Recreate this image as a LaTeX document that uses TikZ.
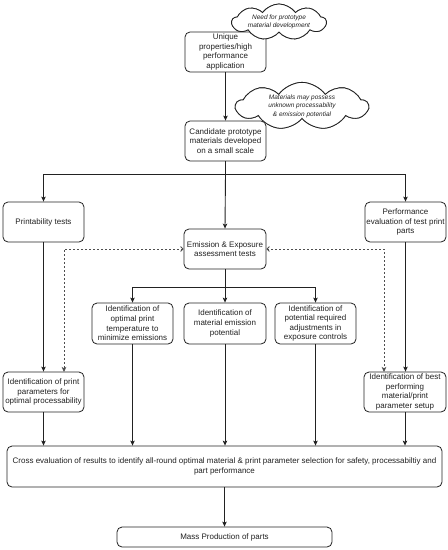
\documentclass[tikz,border=0pt]{standalone}
\usepackage{fontspec}
\setmainfont{Liberation Sans}
\usetikzlibrary{arrows.meta,shapes.symbols,calc}
\definecolor{ink}{HTML}{222222}
\tikzset{
  box/.style={draw=ink, line width=0.8pt, rounded corners=5pt, fill=white, inner sep=0pt,
    align=center, text=ink, font=\fontsize{8}{9.6}\selectfont},
  cloudnode/.style={draw=ink, line width=0.8pt, fill=white, cloud, cloud puffs=9, cloud puff arc=110,
    cloud ignores aspect, inner sep=0pt, align=center, text=ink,
    font=\fontsize{6.5}{8.4}\selectfont\itshape},
  arr/.style={draw=ink, line width=0.9pt, -{Stealth[length=5pt,width=4.5pt,inset=1.2pt]}},
  plain/.style={draw=ink, line width=0.9pt},
  dotarr/.style={draw=ink!80, line width=0.8pt, dash pattern=on 2pt off 2pt,
    {Straight Barb[length=2.5pt,width=5pt]}-{Stealth[length=5pt,width=4.5pt,inset=1.2pt]}}
}
\begin{document}
\begin{tikzpicture}[x=1pt,y=-1pt]
\useasboundingbox (0,0) rectangle (448,550);
\fill[white] (0,0) rectangle (448,550);

\node[box, minimum width=81pt, minimum height=40pt] (uniq) at (225.5,52) {Unique\\properties/high\\performance\\application};
\node[cloudnode, minimum width=94pt, minimum height=36pt] (cl1) at (279,22) {Need for prototype\\material development};

\node[box, minimum width=81pt, minimum height=40pt] (cand) at (225.5,141) {Candidate prototype\\materials developed\\on a small scale};
\node[cloudnode, minimum width=132pt, minimum height=43pt] (cl2) at (302,106) {Materials may possess\\unknown processability\\\& emission potential};

\node[box, minimum width=81pt, minimum height=40pt] (print) at (43.5,222) {Printability tests};
\node[box, minimum width=81pt, minimum height=40pt] (perf) at (405.5,222) {Performance\\evaluation of test print\\parts};
\node[box, minimum width=82pt, minimum height=40pt] (emis) at (225,249) {Emission \& Exposure\\assessment tests};

\node[box, minimum width=81pt, minimum height=41pt] (idA) at (132.5,323.5) {Identification of\\optimal print\\temperature to\\minimize emissions};
\node[box, minimum width=82pt, minimum height=41pt] (idB) at (225,323.5) {Identification of\\material emission\\potential};
\node[box, minimum width=81pt, minimum height=41pt] (idC) at (315.5,323.5) {Identification of\\potential required\\adjustments in\\exposure controls};

\node[box, minimum width=81pt, minimum height=40pt] (idpp) at (43.5,392) {Identification of print\\parameters for\\optimal processability};
\node[box, minimum width=82pt, minimum height=40pt] (idbest) at (405,392) {Identification of best\\performing\\material/print\\parameter setup};

\node[box, minimum width=435pt, minimum height=41pt] (cross) at (224.5,466.5) {Cross evaluation of results to identify all-round optimal material \& print parameter selection for safety, processabiltiy and\\part performance};
\node[box, minimum width=215pt, minimum height=20pt] (mass) at (224.5,537) {Mass Production of parts};

% coordinates
\coordinate (split1) at (225.5,174);
\coordinate (split2) at (225,287);
\coordinate (dl) at (64,372);
\coordinate (dr) at (384,372);

% connectors
\draw[arr] (uniq.south) -- (cand.north);
\draw[plain] (cand.south) -- (split1);
\draw[arr] (split1) -| (print.north);
\draw[arr] (split1) -| (perf.north);
\draw[arr] (split1) -- (emis.north);

\draw[plain] (emis.south) -- (split2);
\draw[arr] (split2) -| (idA.north);
\draw[arr] (split2) -- (idB.north);
\draw[arr] (split2) -| (idC.north);

\draw[arr] (print.south) -- (idpp.north);
\draw[arr] (perf.south) -- (idbest.north -| perf.south);

\draw[dotarr] (emis.west) -| (dl);
\draw[dotarr] (emis.east) -| (dr);

\draw[arr] (idpp.south) -- (cross.north -| idpp.south);
\draw[arr] (idA.south) -- (cross.north -| idA.south);
\draw[arr] (idB.south) -- (cross.north -| idB.south);
\draw[arr] (idC.south) -- (cross.north -| idC.south);
\draw[arr] (idbest.south) -- (cross.north -| idbest.south);
\draw[arr] (cross.south -| mass.north) -- (mass.north);

% clouds on top
\node[cloudnode, minimum width=94pt, minimum height=36pt] at (cl1) {Need for prototype\\material development};
\node[cloudnode, minimum width=132pt, minimum height=43pt] at (cl2) {Materials may possess\\unknown processability\\\& emission potential};
\end{tikzpicture}
\end{document}
